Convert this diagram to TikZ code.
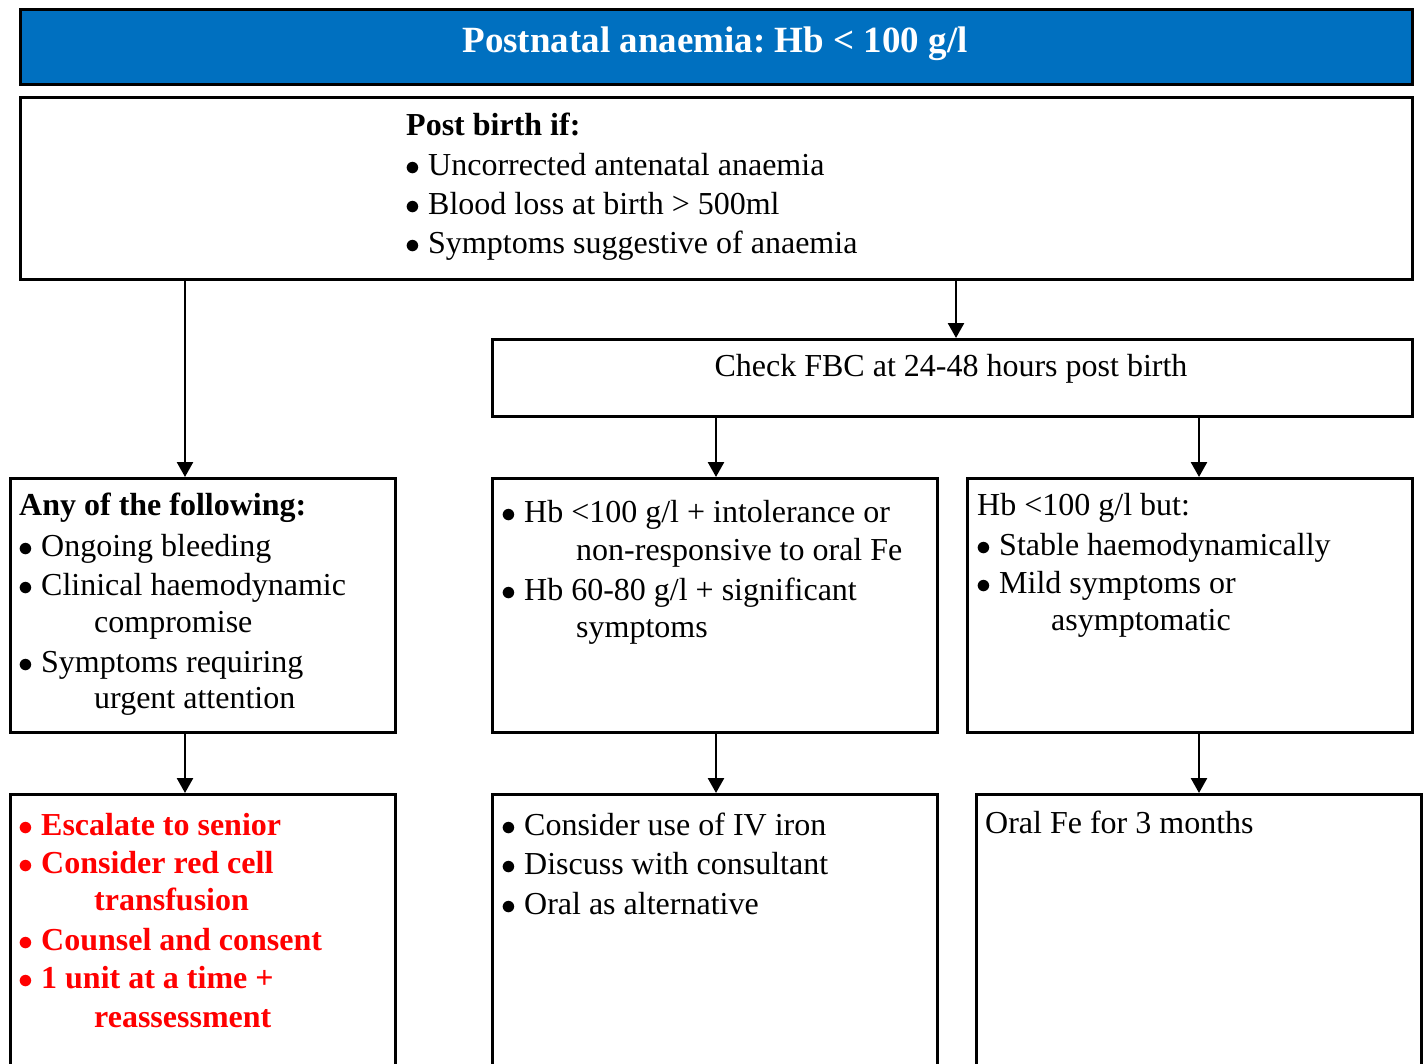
\documentclass[tikz,border=0pt]{standalone}
\usepackage{graphicx}
\usepackage{fontspec}
\setmainfont{Liberation Serif}
\usetikzlibrary{arrows.meta}
\definecolor{hdrblue}{HTML}{0070C0}
\definecolor{alertred}{HTML}{FF0000}
\frenchspacing
\newcommand\mytext[4]{\node[txt] (#1) at (#2,#3) {#4};}
\newcommand\mybullet[4]{\node[txt] (#1) at (#2,#3) {\makebox[22pt][l]{\hspace*{-1pt}\scalebox{1.2}{$\bullet$}}#4};}
\begin{document}
\begin{tikzpicture}[x=1pt,y=-1pt,
  box/.style={draw=black,line width=2.6pt,anchor=north west,inner sep=0pt,fill=white},
  txt/.style={anchor=base west,inner sep=0pt,font=\fontsize{32}{37}\selectfont},
  arr/.style={line width=2.6pt,-{Triangle[length=15pt,width=16pt]}}]
\useasboundingbox (0,0) rectangle (1423,1063);
\clip (0,0) rectangle (1423,1063);
\fill[white] (0,0) rectangle (1423,1063);
% boxes
\node[box,fill=hdrblue,minimum width=1392pt,minimum height=75pt] (title) at (19,8) {};
\node[box,minimum width=1392pt,minimum height=182pt] (crit) at (19,96) {};
\node[box,minimum width=920pt,minimum height=77pt] (fbc) at (491,338) {};
\node[box,minimum width=385pt,minimum height=254pt] (L3) at (9,477) {};
\node[box,minimum width=445pt,minimum height=254pt] (M3) at (491,477) {};
\node[box,minimum width=445pt,minimum height=254pt] (R3) at (966,477) {};
\node[box,minimum width=385pt,minimum height=300pt] (L4) at (9,793) {};
\node[box,minimum width=445pt,minimum height=300pt] (M4) at (491,793) {};
\node[box,minimum width=445pt,minimum height=300pt] (R4) at (975,793) {};
% arrow columns
\coordinate (cL) at (185,0);
\coordinate (cT) at (956,0);
\coordinate (cM) at (716,0);
\coordinate (cR) at (1199,0);
\draw[arr] (crit.south -| cL) -- (L3.north -| cL);
\draw[arr] (crit.south -| cT) -- (fbc.north -| cT);
\draw[arr] (fbc.south -| cM) -- (M3.north -| cM);
\draw[arr] (fbc.south -| cR) -- (R3.north -| cR);
\draw[arr] (L3.south -| cL) -- (L4.north -| cL);
\draw[arr] (M3.south -| cM) -- (M4.north -| cM);
\draw[arr] (R3.south -| cR) -- (R4.north -| cR);
% title
\node[anchor=base,inner sep=0pt,text=white,font=\fontsize{37}{40}\selectfont\bfseries] (titletext) at (715,52) {Postnatal anaemia: Hb < 100 g/l};
% criteria
\mytext{c0}{406}{135}{\bfseries Post birth if:}
\mybullet{c1}{406}{175}{Uncorrected antenatal anaemia}
\mybullet{c2}{406}{214}{Blood loss at birth > 500ml}
\mybullet{c3}{406}{253}{Symptoms suggestive of anaemia}
% fbc
\node[anchor=base,inner sep=0pt,font=\fontsize{32}{37}\selectfont] (fbctext) at (951,376) {Check FBC at 24-48 hours post birth};
% L3
\mytext{l0}{19}{515}{\bfseries Any of the following:}
\mybullet{l1}{19}{556}{Ongoing bleeding}
\mybullet{l2}{19}{595}{Clinical haemodynamic}
\mytext{l2b}{94}{632}{compromise}
\mybullet{l3}{19}{672}{Symptoms requiring}
\mytext{l3b}{94}{708}{urgent attention}
% M3
\mybullet{m1}{502}{522}{Hb <100 g/l + intolerance or}
\mytext{m1b}{576}{560}{non-responsive to oral Fe}
\mybullet{m2}{502}{600}{Hb 60-80 g/l + significant}
\mytext{m2b}{576}{637}{symptoms}
% R3
\mytext{r0}{977}{515}{Hb <100 g/l but:}
\mybullet{r1}{977}{555}{Stable haemodynamically}
\mybullet{r2}{977}{593}{Mild symptoms or}
\mytext{r2b}{1051}{630}{asymptomatic}
% L4
\begin{scope}[txt/.append style={text=alertred,font=\fontsize{32}{37}\selectfont\bfseries}]
\mybullet{e1}{19}{835}{Escalate to senior}
\mybullet{e2}{19}{873}{Consider red cell}
\mytext{e2b}{94}{910}{transfusion}
\mybullet{e3}{19}{950}{Counsel and consent}
\mybullet{e4}{19}{988}{1 unit at a time +}
\mytext{e4b}{94}{1027}{reassessment}
\end{scope}
% M4
\mybullet{i1}{502}{835}{Consider use of IV iron}
\mybullet{i2}{502}{874}{Discuss with consultant}
\mybullet{i3}{502}{914}{Oral as alternative}
% R4
\mytext{o1}{985}{833}{Oral Fe for 3 months}
\end{tikzpicture}
\end{document}
